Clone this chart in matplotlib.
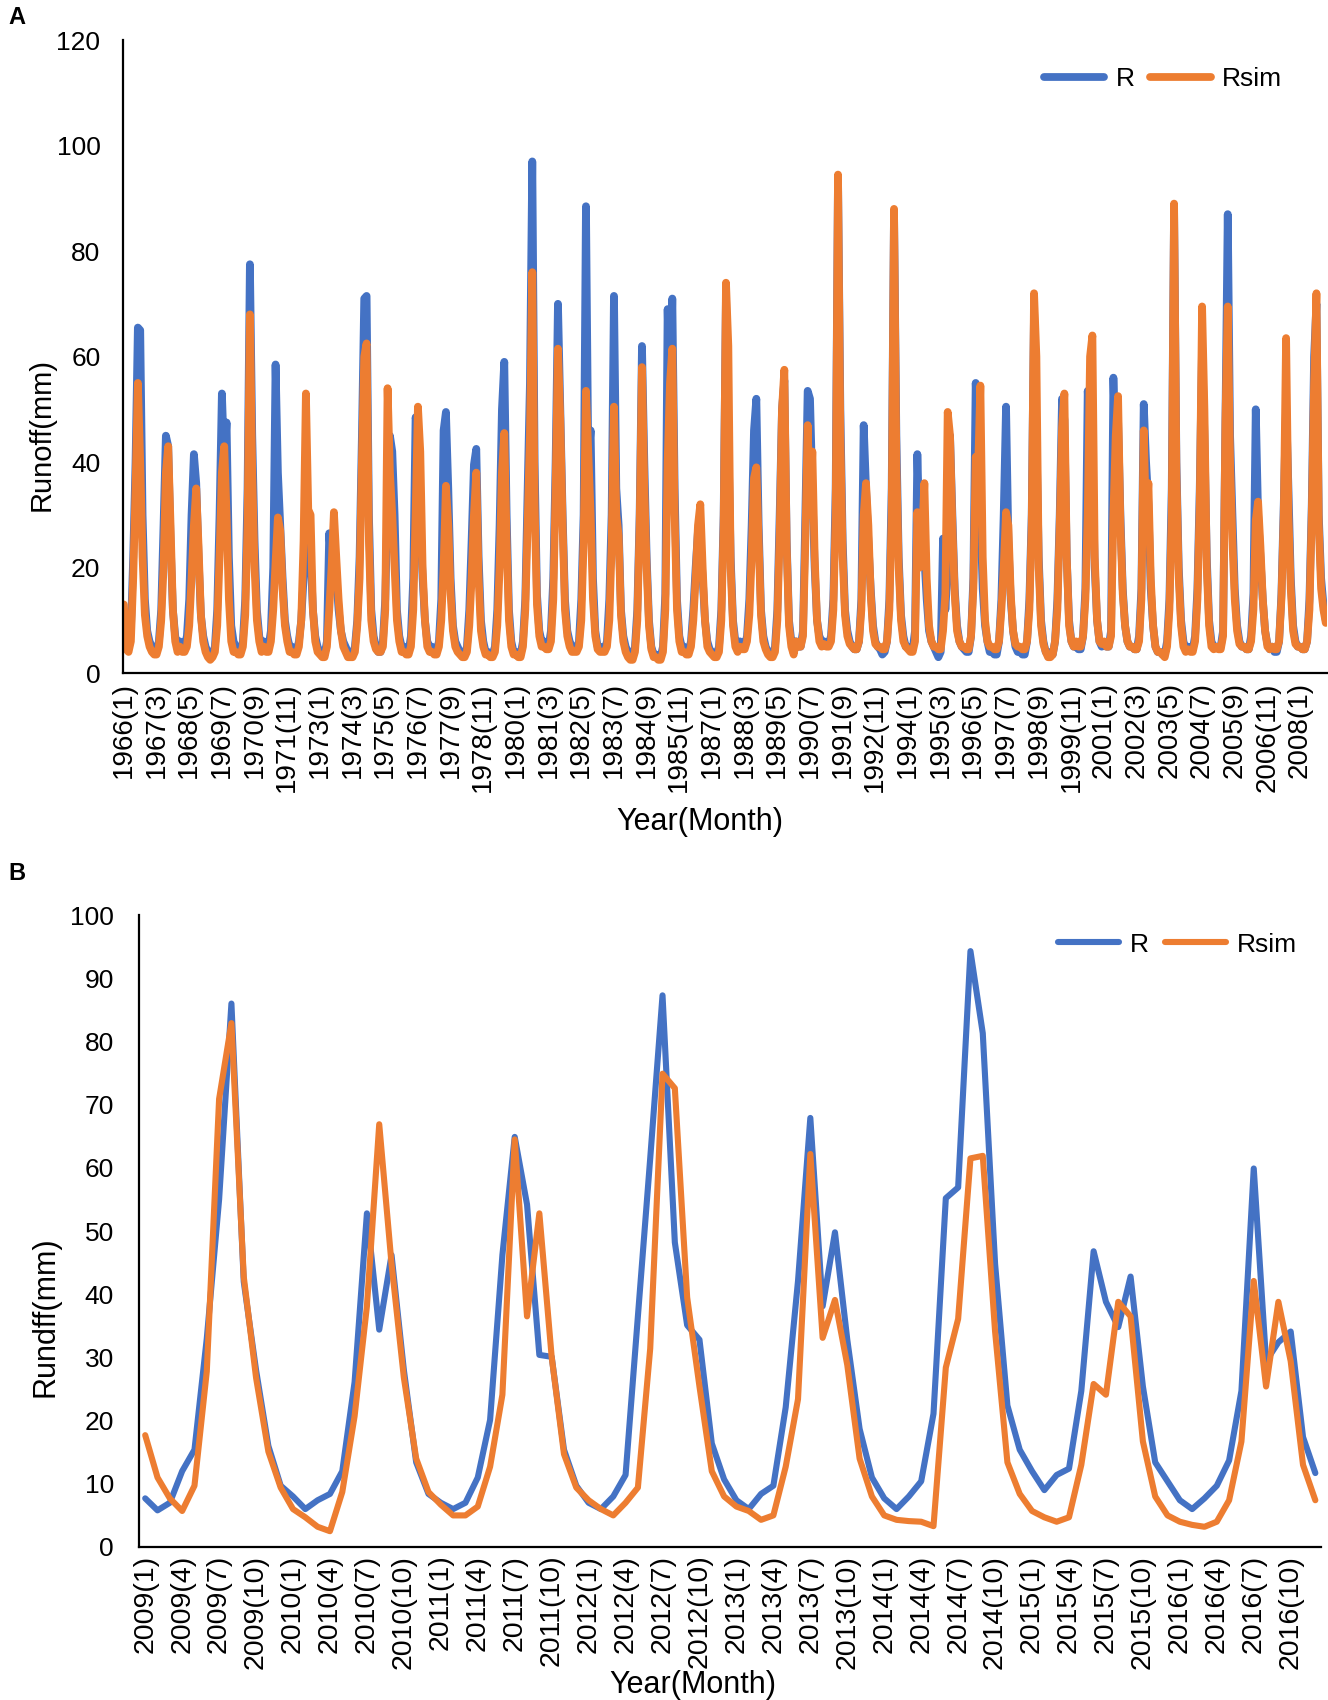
import matplotlib.pyplot as plt

plt.rcParams['font.family'] = ['Liberation Sans', 'DejaVu Sans']

BLUE = '#4472C4'
ORANGE = '#ED7D31'

# Panel A: monthly runoff (mm), 1966(1) .. 2008(12), one row per year
runoff_obs_a = [
    8.5, 6, 5, 8, 22, 40, 65.5, 65, 30, 14, 8, 6,        # 1966
    5, 4, 4, 6, 12, 28, 45, 43, 25, 12, 7, 5,            # 1967
    6, 5, 5, 7, 14, 30, 41.5, 36, 22, 11, 7, 5,          # 1968
    4, 3.5, 3.5, 5, 12, 30, 53, 40, 47.5, 22, 9, 6,      # 1969
    5, 4, 4, 6, 14, 35, 77.5, 45, 25, 12, 7, 5,          # 1970
    6, 5, 5, 8, 20, 58.5, 38, 28, 18, 10, 7, 5,          # 1971
    5, 4, 4, 6, 10, 18, 26, 28, 22, 12, 7, 5,            # 1972
    4, 3.5, 3.5, 6, 26.5, 20, 24, 18, 12, 8, 6, 5,       # 1973
    4, 3.5, 3.5, 5, 10, 22, 45, 71, 71.5, 30, 12, 7,     # 1974
    5, 4, 4, 6, 14, 32, 45, 42, 30, 12, 7, 5,            # 1975
    5, 4, 4, 7, 18, 48.5, 46, 30, 18, 10, 6, 5,          # 1976
    5, 4, 4, 6, 14, 46, 49.5, 35, 18, 9, 6, 5,           # 1977
    4, 3.5, 3.5, 5, 12, 25, 39.5, 42.5, 22, 10, 6, 4,    # 1978
    4, 3.5, 3.5, 5, 12, 28, 50, 59, 30, 12, 6, 4,        # 1979
    4, 3.5, 3.5, 6, 14, 35, 55, 97, 40, 15, 8, 6,        # 1980
    6, 5, 5, 8, 18, 40, 70, 50, 30, 14, 8, 6,            # 1981
    5, 4.5, 4.5, 6, 14, 30, 88.5, 40, 46, 18, 8, 5,      # 1982
    5, 4.5, 4.5, 6, 14, 30, 71.5, 35, 28, 12, 7, 5,      # 1983
    4, 3.5, 3, 5, 12, 30, 62, 40, 22, 10, 5, 3.5,        # 1984
    3.5, 3, 3, 5, 15, 69, 50, 71, 35, 14, 7, 5,          # 1985
    5, 4, 4, 6, 12, 20, 27, 25, 18, 10, 6, 4.5,          # 1986
    4, 3.5, 3.5, 5, 12, 30, 72, 45, 22, 10, 6, 5,        # 1987
    6, 5, 5, 7, 14, 28, 46, 52, 28, 12, 7, 5,            # 1988
    4, 3.5, 3.5, 5, 12, 30, 50, 55.5, 25, 10, 6, 4,      # 1989
    6, 5, 5, 8, 30, 53.5, 52, 35, 20, 10, 7, 6,          # 1990
    6, 5.5, 5.5, 7, 14, 35, 94, 50, 25, 12, 8, 6,        # 1991
    5, 4.5, 4.5, 6, 14, 47, 35, 25, 16, 9, 6, 5,         # 1992
    4.5, 3.5, 4, 6, 14, 35, 87.5, 45, 22, 11, 7, 5,      # 1993
    5, 4.5, 4.5, 8, 41.5, 25, 28, 22, 14, 8, 6, 5,       # 1994
    4, 3, 4, 25.5, 12, 20, 45, 30, 16, 9, 6, 5,          # 1995
    4.5, 4, 4, 7, 18, 55, 45, 30, 16, 9, 6, 4,           # 1996
    4, 3.5, 3.5, 6, 14, 30, 50.5, 25, 14, 8, 5, 4,       # 1997
    4, 3.5, 3.5, 6, 14, 30, 69, 45, 22, 10, 6, 4,        # 1998
    4, 3.5, 3.5, 6, 14, 30, 52, 48, 22, 10, 6, 5,        # 1999
    5, 4.5, 4.5, 7, 16, 53.5, 45, 40, 20, 10, 6, 5,      # 2000
    5.5, 5, 5, 8, 56, 40, 48, 30, 16, 9, 6, 5,           # 2001
    5, 4.5, 4.5, 7, 16, 51, 40, 32, 16, 9, 5, 4,         # 2002
    4, 3.5, 3.5, 6, 14, 35, 88, 40, 20, 10, 6, 4.5,      # 2003
    5, 4.5, 4.5, 7, 16, 35, 62, 45, 22, 10, 6, 5,        # 2004
    5, 5, 5, 8, 48, 87, 45, 30, 16, 9, 6, 5,             # 2005
    5, 4.5, 4.5, 7, 15, 50, 30, 22, 14, 8, 5.5, 4.5,     # 2006
    5, 4, 4, 6, 15, 32, 51, 35, 18, 9, 6, 5,             # 2007
    5, 4.5, 4.5, 6, 14, 32, 60, 70, 30, 18, 13, 10,      # 2008
]

runoff_sim_a = [
    13, 4.5, 4, 6, 18, 35, 55, 40, 22, 11, 7, 5,         # 1966
    4, 3.5, 3.5, 5, 10, 20, 38, 43, 28, 12, 6, 4,        # 1967
    5, 4, 4, 5, 9, 18, 28, 35, 24, 11, 6, 4,             # 1968
    3, 2.5, 3, 4, 9, 22, 38, 43, 30, 14, 6, 4,           # 1969
    4, 3.5, 3.5, 5, 11, 28, 68, 38, 20, 10, 6, 4,        # 1970
    5, 4, 4, 6, 12, 21, 29.5, 27, 16, 9, 6, 4,           # 1971
    4, 3.5, 3.5, 5, 10, 25, 53, 31, 30, 12, 6, 4,        # 1972
    3.5, 3, 3, 5, 12, 20, 30.5, 22, 14, 8, 5, 4,         # 1973
    3, 3, 3, 4, 9, 18, 40, 60, 62.5, 25, 10, 6,          # 1974
    4.5, 4, 4, 5, 12, 54, 38, 30, 20, 10, 6, 4,          # 1975
    4, 3.5, 3.5, 5, 12, 30, 50.5, 42, 20, 10, 5, 4,      # 1976
    4, 3.5, 3.5, 5, 10, 20, 35.5, 28, 15, 8, 5, 4,       # 1977
    3.5, 3, 3, 4, 9, 18, 30, 38, 18, 8, 5, 3.5,          # 1978
    3.5, 3, 3, 4, 9, 20, 38, 45.5, 25, 10, 5, 3.5,       # 1979
    3.5, 3, 3, 5, 12, 28, 45, 76, 32, 13, 7, 5,          # 1980
    5, 4.5, 4.5, 6, 14, 35, 61.5, 48, 28, 12, 7, 5,      # 1981
    4, 4, 4, 5, 10, 25, 53.5, 42, 30, 14, 7, 4.5,        # 1982
    4, 4, 4, 5, 10, 24, 50.5, 30, 26, 11, 6, 4,          # 1983
    3, 2.5, 2.5, 4, 10, 28, 58, 35, 20, 9, 4.5, 3,       # 1984
    3, 2.5, 2.5, 4, 12, 40, 55, 61.5, 30, 12, 6, 4,      # 1985
    4, 3.5, 3.5, 5, 10, 18, 28, 32, 20, 10, 5, 4,        # 1986
    3.5, 3, 3, 4, 10, 28, 74, 62, 20, 9, 5, 4,           # 1987
    5, 4.5, 4.5, 6, 11, 22, 37, 39, 25, 11, 6, 4.5,      # 1988
    3.5, 3, 3, 4, 10, 26, 50, 57.5, 24, 9, 5, 3.5,       # 1989
    6, 5, 5, 7, 25, 47, 30, 42, 22, 10, 6, 5,            # 1990
    5.5, 5, 5, 6, 12, 30, 94.5, 45, 22, 11, 7, 5.5,      # 1991
    5, 4.5, 4.5, 6, 12, 30, 36, 28, 15, 8, 5.5, 5,       # 1992
    5, 4.5, 4.5, 6, 12, 30, 88, 40, 20, 10, 6, 5,        # 1993
    4.5, 4, 4, 6, 30.5, 20, 25, 36, 18, 9, 6, 5,         # 1994
    5, 4.5, 4.5, 8, 15, 49.5, 45, 28, 15, 8, 6, 5,       # 1995
    5, 4.5, 4.5, 7, 16, 41, 38, 54.5, 22, 10, 6, 5,      # 1996
    5, 4.5, 4.5, 6, 12, 20, 30.5, 28, 15, 8, 5.5, 5,     # 1997
    5, 4.5, 4.5, 6, 12, 28, 72, 60, 20, 9, 5.5, 4,       # 1998
    3, 3, 3.5, 6, 12, 28, 46.5, 53, 22, 9, 6, 5,         # 1999
    6, 5, 5, 7, 14, 30, 60, 64, 22, 10, 6, 5.5,          # 2000
    6, 5, 5, 7, 30, 45, 52.5, 28, 15, 9, 6, 5,           # 2001
    5, 4.5, 4.5, 6, 14, 46, 28, 36, 18, 9, 5, 4,         # 2002
    4, 3.5, 3, 5, 12, 30, 89, 38, 18, 9, 5, 4,           # 2003
    4.5, 4, 4, 6, 14, 32, 69.5, 50, 20, 9, 5, 4.5,       # 2004
    5, 4.5, 4.5, 7, 47.5, 69.5, 40, 25, 14, 8, 5.5, 5,   # 2005
    5, 4.5, 4.5, 6, 12, 29, 32.5, 24, 14, 8, 5, 4.5,     # 2006
    5, 4.5, 4.5, 6, 14, 30, 63.5, 30, 16, 8, 5.5, 5,     # 2007
    5, 4.5, 4.5, 6, 12, 30, 55, 72, 28, 16, 12, 9.5,     # 2008
]

# Panel B: monthly runoff (mm), 2009(1) .. 2016(12)
runoff_obs_b = [
    7.7, 5.8, 7.0, 12.0, 15.4, 33.0, 55.0, 86.0, 42.0, 28.0, 16.0, 9.7,     # 2009
    8.0, 6.0, 7.4, 8.4, 12.0, 26.1, 52.8, 34.4, 46.2, 28.0, 13.4, 8.4,      # 2010
    7.0, 6.0, 7.0, 11.0, 20.1, 46.2, 64.9, 54.2, 30.4, 30.1, 15.4, 9.7,     # 2011
    7.0, 6.0, 8.0, 11.4, 36.5, 61.5, 87.3, 48.2, 35.1, 32.8, 16.4, 10.7,    # 2012
    7.4, 6.0, 8.4, 9.7, 22.1, 42.1, 67.9, 38.1, 49.8, 32.8, 18.7, 11.0,     # 2013
    7.7, 6.0, 8.0, 10.4, 21.1, 55.2, 56.9, 94.3, 81.3, 44.8, 22.4, 15.4,    # 2014
    12.0, 9.0, 11.4, 12.4, 24.7, 46.8, 38.8, 34.8, 42.8, 25.4, 13.4, 10.4,  # 2015
    7.4, 6.0, 7.7, 9.7, 13.7, 24.7, 59.9, 29.4, 32.4, 34.1, 17.4, 11.7,     # 2016
]

runoff_sim_b = [
    17.7, 11.0, 7.7, 5.7, 9.7, 27.8, 70.9, 82.9, 42.8, 26.8, 15.1, 9.4,     # 2009
    6.0, 4.7, 3.2, 2.5, 8.7, 20.7, 38.1, 66.9, 44.8, 26.8, 14.0, 8.7,       # 2010
    6.7, 5.0, 5.0, 6.4, 12.7, 24.1, 64.5, 36.5, 52.8, 30.1, 14.7, 9.4,      # 2011
    7.4, 6.0, 5.0, 7.0, 9.4, 31.4, 74.9, 72.6, 39.5, 25.4, 12.0, 8.0,       # 2012
    6.4, 5.7, 4.3, 5.0, 12.7, 23.4, 62.2, 33.1, 39.1, 28.8, 14.0, 8.0,      # 2013
    5.0, 4.3, 4.1, 4.0, 3.3, 28.4, 36.1, 61.5, 61.9, 34.1, 13.4, 8.4,       # 2014
    5.7, 4.7, 4.0, 4.7, 13.0, 25.8, 24.1, 38.8, 36.5, 16.7, 8.0, 5.0,       # 2015
    4.0, 3.5, 3.2, 4.0, 7.4, 16.7, 42.1, 25.4, 38.8, 29.4, 13.0, 7.4,       # 2016
]

start_year_a, tick_step_a = 1966, 14
start_year_b, tick_step_b = 2009, 3


def month_labels(start_year, n):
    return [f"{start_year + i // 12}({i % 12 + 1})" for i in range(n)]


def draw_panel(ax, obs, sim, start_year, step, ymax, ystep, lw, xfs, xpad, ypad):
    x = list(range(len(obs)))
    ax.plot(x, obs, color=BLUE, lw=lw, label='R',
            solid_joinstyle='round', solid_capstyle='round')
    ax.plot(x, sim, color=ORANGE, lw=lw, label='Rsim',
            solid_joinstyle='round', solid_capstyle='round')
    labels = month_labels(start_year, len(obs))
    ticks = x[::step]
    ax.set_xticks(ticks)
    ax.set_xticklabels([labels[t] for t in ticks], rotation=90, fontsize=xfs)
    ax.set_xlim(-0.5, len(obs) - 0.5)
    ax.set_ylim(0, ymax)
    ax.set_yticks(range(0, ymax + 1, ystep))
    ax.tick_params(axis='y', length=0, pad=ypad, labelsize=19)
    ax.tick_params(axis='x', length=0, pad=xpad)
    for side in ('top', 'right'):
        ax.spines[side].set_visible(False)
    for side in ('left', 'bottom'):
        ax.spines[side].set_linewidth(1.6)
        ax.spines[side].set_color('black')


fig = plt.figure(figsize=(13.28, 17), dpi=100)

ax1 = fig.add_axes([0.0924, 0.6041, 0.9068, 0.3723])
draw_panel(ax1, runoff_obs_a, runoff_sim_a, start_year_a, tick_step_a,
           120, 20, 5.6, 20, 6.5, 16)

ax2 = fig.add_axes([0.1047, 0.0900, 0.8904, 0.3717])
draw_panel(ax2, runoff_obs_b, runoff_sim_b, start_year_b, tick_step_b,
           100, 10, 4.4, 20.5, 5.5, 18)

for ax, (lx, ly) in ((ax1, (0.8757, 0.9534)), (ax2, (0.8868, 0.4444))):
    ax.legend(loc='center', bbox_to_anchor=(lx, ly), bbox_transform=fig.transFigure,
              ncol=2, frameon=False, fontsize=19, handlelength=2.3,
              handletextpad=0.42, columnspacing=0.6, borderpad=0)

# panel letters and axis titles
fig.text(0.0065, 0.990, 'A', fontsize=17, fontweight='bold', va='center', ha='left')
fig.text(0.0065, 0.486, 'B', fontsize=17, fontweight='bold', va='center', ha='left')
fig.text(0.031, 0.7446, 'Runoff(mm)', rotation=90, fontsize=21, va='center', ha='center')
fig.text(0.527, 0.5166, 'Year(Month)', fontsize=22, va='center', ha='center')
fig.text(0.0343, 0.2254, 'Rundff(mm)', rotation=90, fontsize=22, va='center', ha='center')
fig.text(0.5217, 0.0089, 'Year(Month)', fontsize=22, va='center', ha='center')

fig.savefig('out.png', dpi=100)
